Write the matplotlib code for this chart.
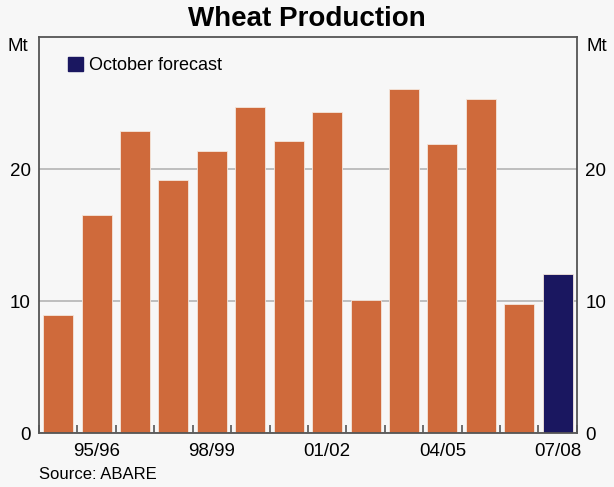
import numpy as np
import matplotlib.pyplot as plt
from matplotlib.patches import Patch

plt.rcParams['font.family'] = ['Liberation Sans', 'DejaVu Sans']

# Data (Mt)
seasons = ['94/95', '95/96', '96/97', '97/98', '98/99', '99/00', '00/01',
           '01/02', '02/03', '03/04', '04/05', '05/06', '06/07', '07/08']
production = [9.0, 16.5, 22.9, 19.2, 21.4, 24.7, 22.1,
              24.3, 10.1, 26.1, 21.9, 25.3, 9.8, 12.1]
forecast = [False] * 13 + [True]
shown_labels = ['95/96', '98/99', '01/02', '04/05', '07/08']

orange = '#cf6a3b'
navy = '#1a1760'
bg = '#f7f7f7'

fig = plt.figure(figsize=(6.14, 4.87), dpi=100, facecolor=bg)
ax = fig.add_axes([0.0635, 0.110, 0.876, 0.814], facecolor=bg)

x = np.arange(len(seasons))
colors = [navy if f else orange for f in forecast]
ax.bar(x, production, width=0.78, color=colors, edgecolor='#f4e6dc', linewidth=0.6, zorder=2)

ax.set_xlim(-0.5, len(seasons) - 0.5)
ax.set_ylim(0, 30)
ax.set_yticks([0, 10, 20])
ax.yaxis.grid(True, color='#b4b4b4', linewidth=1.2, zorder=0)
for s in ax.spines.values():
    s.set_color('#555555')
    s.set_linewidth(1.3)

ax.set_xticks([seasons.index(s) for s in shown_labels])
ax.set_xticklabels(shown_labels)
ax.set_xticks(np.arange(len(seasons) + 1) - 0.5, minor=True)
ax.tick_params(axis='x', which='major', length=0, labelsize=13.5, pad=7)
ax.tick_params(axis='x', which='minor', direction='in', length=6, color='#555555', width=1.2)
ax.tick_params(axis='y', which='both', length=0, labelsize=13.5, pad=6,
               left=False, right=False, labelleft=True, labelright=True)

fig.text(0.5, 0.962, 'Wheat Production', ha='center', va='center', fontsize=20, fontweight='bold')
fig.text(0.013, 0.905, 'Mt', ha='left', va='center', fontsize=13.5)
fig.text(0.988, 0.905, 'Mt', ha='right', va='center', fontsize=13.5)
fig.text(0.063, 0.025, 'Source: ABARE', ha='left', va='center', fontsize=12)

ax.legend(handles=[Patch(facecolor=navy, edgecolor=navy)], labels=['October forecast'],
          loc='upper left', bbox_to_anchor=(0.024, 0.99), frameon=False, fontsize=13,
          handlelength=0.8, handleheight=0.8, handletextpad=0.35)

plt.savefig('out.png', dpi=100, facecolor=bg)
